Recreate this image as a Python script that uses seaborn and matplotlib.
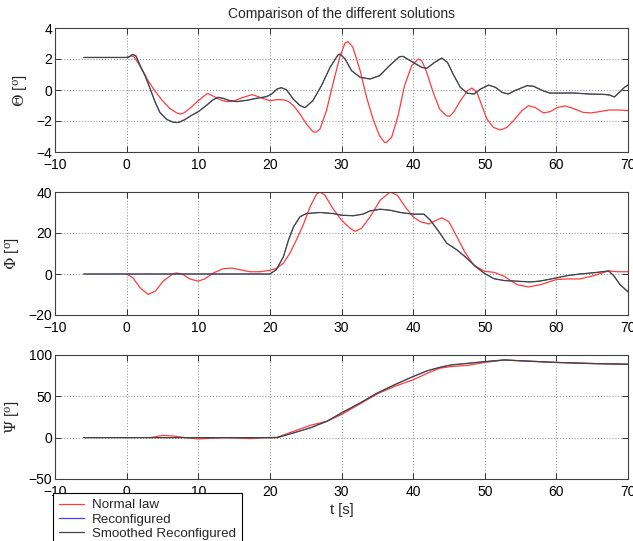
import matplotlib
matplotlib.use("Agg")
import matplotlib.pyplot as plt
import seaborn as sns
import pandas as pd

# ---------------- data ----------------
# Theta, smoothed reconfigured (black)
theta_s_t = [-6, 0, 0.4, 0.85, 1.3, 2.0, 2.6, 3.3, 4.0, 4.65, 5.6, 6.5, 7.2, 8.1, 9, 10, 11.2, 12.1,
             12.8, 13.5, 14.4, 15.35, 16.7, 18.1, 19.5, 20.2, 21, 21.6, 22.3, 23.3, 24.2, 24.9, 26,
             27.2, 28.4, 29.5, 29.8, 30.5, 31.4, 32.6, 34, 35.3, 36.7, 38.1, 38.6, 40, 41.2, 41.9,
             43, 44, 44.8, 45.7, 46.6, 47.6, 48.5, 49.4, 50.55, 51.5, 52.4, 53.3, 54.2, 55.9, 56.8,
             58.2, 59.1, 60.5, 62.3, 64.6, 66.5, 67.4, 68.1, 68.8, 69.5, 70]
theta_s_v = [2.1, 2.1, 2.15, 2.3, 2.2, 1.45, 0.9, 0.06, -0.8, -1.45, -1.9, -2.08, -2.1, -1.92, -1.65,
             -1.4, -0.97, -0.62, -0.47, -0.54, -0.69, -0.75, -0.67, -0.54, -0.43, -0.28, 0.06, 0.15,
             0.02, -0.6, -1.0, -1.14, -0.69, 0.28, 1.46, 2.26, 2.32, 2.0, 1.25, 0.82, 0.71, 0.92,
             1.57, 2.15, 2.17, 1.78, 1.46, 1.4, 1.78, 2.06, 1.78, 0.92, 0.17, -0.21, -0.26, 0.06,
             0.32, 0.17, -0.15, -0.26, -0.04, 0.28, 0.24, -0.06, -0.2, -0.2, -0.19, -0.26, -0.28,
             -0.32, -0.45, -0.15, 0.17, 0.32]
theta_r_t = theta_s_t
theta_r_v = theta_s_v
# Theta, normal law (red)
theta_n_t = [0, 0.6, 1, 2, 3, 4, 5, 6, 7, 7.5, 8, 9, 10, 11, 11.3, 12, 13, 14, 15, 16, 17, 17.5, 18,
             19, 20, 21, 22, 22.6, 23.3, 24.2, 25.1, 26, 26.4, 27, 27.9, 28.8, 29.8, 30.5, 30.9,
             31.6, 32.6, 33.5, 34.4, 35.3, 36, 36.3, 37, 37.9, 38.8, 39.8, 40.7, 41.2, 41.9, 42.8,
             43.7, 44.65, 45.1, 45.7, 46.6, 47.6, 48.2, 48.9, 49.6, 50.3, 51.2, 52.2, 53.1, 54,
             55.2, 56.1, 57, 58.2, 59.1, 60.2, 61.2, 62.3, 63.7, 64.8, 66, 67.4, 68.8, 70]
theta_n_v = [2.1, 2.2, 2.17, 1.46, 0.6, -0.09, -0.69, -1.18, -1.48, -1.55, -1.48, -1.12, -0.69,
             -0.32, -0.22, -0.37, -0.62, -0.75, -0.71, -0.52, -0.37, -0.3, -0.37, -0.54, -0.69,
             -0.62, -0.64, -0.75, -1.01, -1.55, -2.19, -2.69, -2.73, -2.52, -1.33, 0.39, 2.2, 3.03,
             3.12, 2.75, 1.25, -0.47, -1.87, -2.95, -3.38, -3.38, -3.05, -1.66, 0.28, 1.57, 2.0,
             1.89, 1.14, -0.15, -1.23, -1.66, -1.7, -1.4, -0.69, -0.04, 0.13, -0.15, -1.01, -1.87,
             -2.41, -2.58, -2.41, -1.98, -1.33, -1.01, -1.12, -1.48, -1.4, -1.12, -1.03, -1.18,
             -1.44, -1.48, -1.4, -1.29, -1.29, -1.33]

# Phi, smoothed reconfigured (black)
phi_s_t = [-6, 20, 20.9, 21.9, 22.6, 23.3, 24.2, 25.1, 27, 28.8, 30, 31.6, 33, 34, 35.4, 36.8, 38.2,
           40, 41.5, 42.4, 43.6, 44.7, 46.1, 47.5, 48.7, 50, 51.3, 52.7, 54.5, 56.4, 57.8, 60,
           61.5, 63.3, 65.2, 67.3, 68, 68.9, 69.9, 70]
phi_s_v = [0, 0, 2.1, 8.5, 16.6, 23, 27.9, 29.5, 30, 29.5, 28.7, 28.4, 29.2, 30.8, 31.6, 31.1, 30,
           29.2, 29.2, 26.3, 20.6, 15, 11.8, 7.7, 3.7, 0.2, -2.3, -3.2, -3.5, -3.9, -3.4, -1.9,
           -0.8, 0, 0.6, 1.5, -0.8, -5.2, -8.4, -8.7]
phi_r_t = phi_s_t
phi_r_v = phi_s_v
# Phi, normal law (red)
phi_n_t = [0, 0.9, 1.9, 3, 4, 5.1, 6.5, 7, 7.9, 8.8, 10, 10.9, 12.1, 13.5, 14.65, 15.8, 17.2, 18.6,
           20, 20.9, 21.9, 22.8, 23.7, 24.65, 25.6, 26.5, 27, 27.7, 28.8, 30, 31.2, 31.9, 32.8,
           34, 35.4, 36.8, 37.8, 38.9, 40, 41, 42.2, 43.1, 44, 45, 46.1, 47.3, 48.5, 50, 51.3,
           52.7, 54.5, 56.1, 57.8, 60, 61.5, 63.3, 65.2, 67.3, 68.5, 70]
phi_n_v = [0, -1.9, -6.8, -10, -8.4, -3.5, 0.2, 0.5, -0.3, -2.4, -3.5, -2.4, 0.5, 2.6, 2.9, 2.1,
           1.1, 1.1, 1.8, 2.7, 5.3, 10.2, 16.6, 23.9, 32.7, 38.9, 40, 38.4, 31.9, 26.3, 22.3,
           20.8, 22.3, 27.9, 36, 40, 38.4, 32.7, 27.9, 25.5, 24.4, 26, 27.4, 25.5, 18.2, 10.2,
           4.2, 1.3, 0.8, -1.1, -5.2, -6.3, -5.2, -2.7, -2.4, -2.4, -0.8, 1.5, 1.1, 1.1]

# Psi, smoothed reconfigured (black)
psi_s_t = [-6, 21, 23.4, 25.7, 28, 30, 32.6, 35, 37.4, 40, 42, 43.7, 45.3, 47.7, 50, 52.7, 55, 60,
           65.3, 70]
psi_s_v = [0, 0, 6, 12, 20, 30, 42, 54, 64, 74, 81, 85, 88, 90, 92, 94, 93, 91, 89.6, 88.8]
psi_r_t = psi_s_t
psi_r_v = psi_s_v
# Psi, normal law (red)
psi_n_t = [3.3, 5.1, 6.5, 7.9, 10, 11.7, 13.6, 15.4, 17.3, 19.2, 21, 23.4, 25.7, 28, 30, 32.6, 35,
           37.4, 40, 42, 43.7, 45.3, 47.7, 50, 52.7, 55, 60, 65.3, 70]
psi_n_v = [0, 2.8, 2, 0.4, -1.6, -0.8, 0, -0.4, -1.2, 0, 0.4, 8, 15, 20, 28, 41, 53, 62, 70, 78,
           84, 86, 87.6, 91, 94, 93, 91, 89.6, 88.8]

series_names = ["Normal law", "Reconfigured", "Smoothed Reconfigured"]
series_colors = ["#ff3b3b", "#4040ff", "#444444"]
series_widths = [0.9, 0.5, 0.95]
ylabels = [r"$\Theta$ [$^{\mathrm{o}}$]", r"$\Phi$ [$^{\mathrm{o}}$]", r"$\Psi$ [$^{\mathrm{o}}$]"]
xticks = [-10, 0, 10, 20, 30, 40, 50, 60, 70]
yticks_list = [[-4, -2, 0, 2, 4], [-20, 0, 20, 40], [-50, 0, 50, 100]]
title = "Comparison of the different solutions"
xlabel = "t [s]"

# ---------------- build frames ----------------
def frame(t_list, v_list, name):
    return pd.DataFrame({"t": t_list, "v": v_list, "series": name})

panels = [
    [(theta_n_t, theta_n_v), (theta_r_t, theta_r_v), (theta_s_t, theta_s_v)],
    [(phi_n_t, phi_n_v), (phi_r_t, phi_r_v), (phi_s_t, phi_s_v)],
    [(psi_n_t, psi_n_v), (psi_r_t, psi_r_v), (psi_s_t, psi_s_v)],
]

sns.set_style("white")
plt.rcParams["font.family"] = ["Liberation Sans", "DejaVu Sans"]
plt.rcParams["mathtext.fontset"] = "dejavuserif"

W, H = 633, 541
fig = plt.figure(figsize=(W / 100, H / 100), dpi=100)

boxes = [(28, 152), (192, 315), (355, 479)]  # top/bottom pixel rows
left_px, right_px = 55, 628

axes = []
for i, (top, bot) in enumerate(boxes):
    ax = fig.add_axes([left_px / W, 1 - bot / H, (right_px - left_px) / W, (bot - top) / H])
    axes.append(ax)
    for j, (tt, vv) in enumerate(panels[i]):
        df = frame(tt, vv, series_names[j])
        sns.lineplot(data=df, x="t", y="v", ax=ax, color=series_colors[j], lw=series_widths[j],
                     estimator=None, sort=False, label=series_names[j], legend=False)
    ax.set_xlim(-10, 70)
    ax.set_xticks(xticks)
    ax.set_yticks(yticks_list[i])
    ax.set_ylim(yticks_list[i][0], yticks_list[i][-1])
    ax.grid(True, color="#8a8a8a", linestyle=(0, (1, 2)), linewidth=0.7)
    ax.tick_params(direction="in", length=4, width=0.7, colors="#303030",
                   labelsize=10, labelcolor="black", top=True, right=True,
                   bottom=True, left=True)
    ax.tick_params(axis="x", pad=4)
    ax.tick_params(axis="y", pad=2)
    for sp in ax.spines.values():
        sp.set_color("#404040")
        sp.set_linewidth(0.8)
    ax.set_xlabel("")
    ax.set_ylabel(ylabels[i], fontsize=11, labelpad=4)

axes[0].set_title(title, fontsize=10, pad=7)
axes[2].set_xlabel(xlabel, fontsize=10.5, labelpad=3)

handles, labels = axes[2].get_legend_handles_labels()
leg = fig.legend(handles[:3], labels[:3], loc="upper left",
                 bbox_to_anchor=(53 / W, 1 - 493 / H), fontsize=9.6, frameon=True,
                 fancybox=False, edgecolor="black", framealpha=1, borderpad=0.45,
                 handlelength=1.9, handletextpad=0.6, labelspacing=0.15, borderaxespad=0)
leg.get_frame().set_linewidth(0.8)
for h in leg.legend_handles:
    h.set_linewidth(0.9)

fig.savefig("out.png", dpi=100)
